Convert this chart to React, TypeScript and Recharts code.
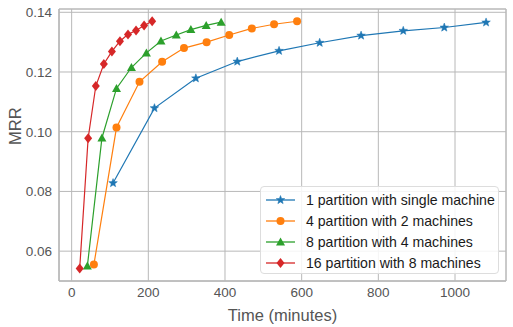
import { LineChart, Line, XAxis, YAxis, CartesianGrid, ReferenceArea } from "recharts";

const singleX = [108, 216, 324, 432, 541, 647, 755, 865, 972, 1081];
const singleY = [0.0828, 0.1079, 0.1179, 0.1235, 0.1271, 0.1298, 0.1322, 0.1338, 0.1349, 0.1366];

const twoX = [58, 117, 177, 236, 293, 352, 411, 470, 528, 588];
const twoY = [0.0555, 0.1014, 0.1167, 0.1234, 0.128, 0.13, 0.1324, 0.1346, 0.136, 0.137];

const fourX = [41, 79, 117, 156, 195, 233, 273, 311, 351, 390];
const fourY = [0.055, 0.0979, 0.1145, 0.1215, 0.1264, 0.1304, 0.1324, 0.1342, 0.1356, 0.1367];

const eightX = [21, 43, 63, 84, 105, 126, 147, 168, 189, 210];
const eightY = [0.0542, 0.0978, 0.1153, 0.1227, 0.1269, 0.1303, 0.1326, 0.1339, 0.1356, 0.137];

const xTicks = [0, 200, 400, 600, 800, 1000];
const yTicks = [0.06, 0.08, 0.1, 0.12, 0.14];

const FONT = "'Liberation Sans', Arial, sans-serif";
const GRID = "#b8b8b8";

const toRows = (xs: number[], ys: number[]) => xs.map((x, i) => ({ x, y: ys[i] }));

const Star = ({ cx, cy, color, r = 4.5 }: any) => {
  const pts: string[] = [];
  for (let i = 0; i < 10; i++) {
    const rad = i % 2 === 0 ? r : r * 0.42;
    const a = (Math.PI / 5) * i - Math.PI / 2;
    pts.push(`${cx + rad * Math.cos(a)},${cy + rad * Math.sin(a)}`);
  }
  return <polygon points={pts.join(" ")} fill={color} stroke={color} strokeWidth={0.5} />;
};

const Circle = ({ cx, cy, color }: any) => <circle cx={cx} cy={cy} r={4} fill={color} />;

const Triangle = ({ cx, cy, color }: any) => (
  <polygon points={`${cx},${cy - 4.5} ${cx - 4.5},${cy + 3.5} ${cx + 4.5},${cy + 3.5}`} fill={color} />
);

const Diamond = ({ cx, cy, color }: any) => (
  <polygon points={`${cx},${cy - 5} ${cx + 4},${cy} ${cx},${cy + 5} ${cx - 4},${cy}`} fill={color} />
);

const series = [
  { name: "1 partition with single machine", color: "#1f77b4", data: toRows(singleX, singleY), Mark: Star },
  { name: "4 partition with 2 machines", color: "#ff7f0e", data: toRows(twoX, twoY), Mark: Circle },
  { name: "8 partition with 4 machines", color: "#2ca02c", data: toRows(fourX, fourY), Mark: Triangle },
  { name: "16 partition with 8 machines", color: "#d62728", data: toRows(eightX, eightY), Mark: Diamond },
];

function LegendBox() {
  return (
    <div
      style={{
        position: "absolute",
        left: 260,
        top: 186,
        boxSizing: "border-box",
        width: 239,
        height: 88,
        background: "rgba(255,255,255,0.85)",
        border: "1px solid #dddddd",
        borderRadius: 4,
        padding: "2px 0 0 5px",
        fontFamily: FONT,
        fontSize: 14.1,
        color: "#1a1a1a",
        whiteSpace: "nowrap",
      }}
    >
      {series.map((s) => (
        <div key={s.name} style={{ display: "flex", alignItems: "center", height: 21 }}>
          <svg width={30} height={12} style={{ marginRight: 10, flexShrink: 0 }}>
            <line x1={0} y1={6} x2={29} y2={6} stroke={s.color} strokeWidth={1.3} />
            <s.Mark cx={14.5} cy={6} color={s.color} />
          </svg>
          <span>{s.name}</span>
        </div>
      ))}
    </div>
  );
}

export default function App() {
  return (
    <div style={{ position: "absolute", left: 0, top: 0, width: 513, height: 327, background: "#fff" }}>
      <LineChart width={513} height={327} margin={{ top: 9, right: 7, bottom: 0, left: 0 }}>
        <CartesianGrid stroke={GRID} strokeWidth={1} />
        <ReferenceArea x1={-33} x2={1133} y1={0.05} y2={0.1411} fill="none" stroke={GRID} strokeWidth={1} />
        <XAxis
          type="number"
          dataKey="x"
          domain={[-33, 1133]}
          ticks={xTicks}
          height={46}
          tickLine={false}
          tickSize={0}
          tickMargin={6}
          axisLine={{ stroke: GRID }}
          tick={{ fill: "#555555", fontSize: 13.5, fontFamily: FONT }}
          label={{ value: "Time (minutes)", position: "insideBottom", offset: 6, fill: "#555555", fontSize: 16.5, fontFamily: FONT }}
          allowDataOverflow
        />
        <YAxis
          type="number"
          domain={[0.05, 0.1411]}
          ticks={yTicks}
          width={59}
          tickLine={false}
          tickSize={0}
          tickMargin={7}
          axisLine={{ stroke: GRID }}
          tickFormatter={(v: number) => v.toFixed(2)}
          tick={{ fill: "#555555", fontSize: 13.5, fontFamily: FONT }}
          label={{ value: "MRR", angle: -90, position: "insideLeft", offset: 15, fill: "#555555", fontSize: 16.5, fontFamily: FONT }}
          allowDataOverflow
        />
        {series.map((s) => (
          <Line
            key={s.name}
            data={s.data}
            dataKey="y"
            name={s.name}
            stroke={s.color}
            strokeWidth={1.2}
            isAnimationActive={false}
            dot={(p: any) => <s.Mark key={p.index} cx={p.cx} cy={p.cy} color={s.color} />}
            activeDot={false}
          />
        ))}
      </LineChart>
      <LegendBox />
    </div>
  );
}
